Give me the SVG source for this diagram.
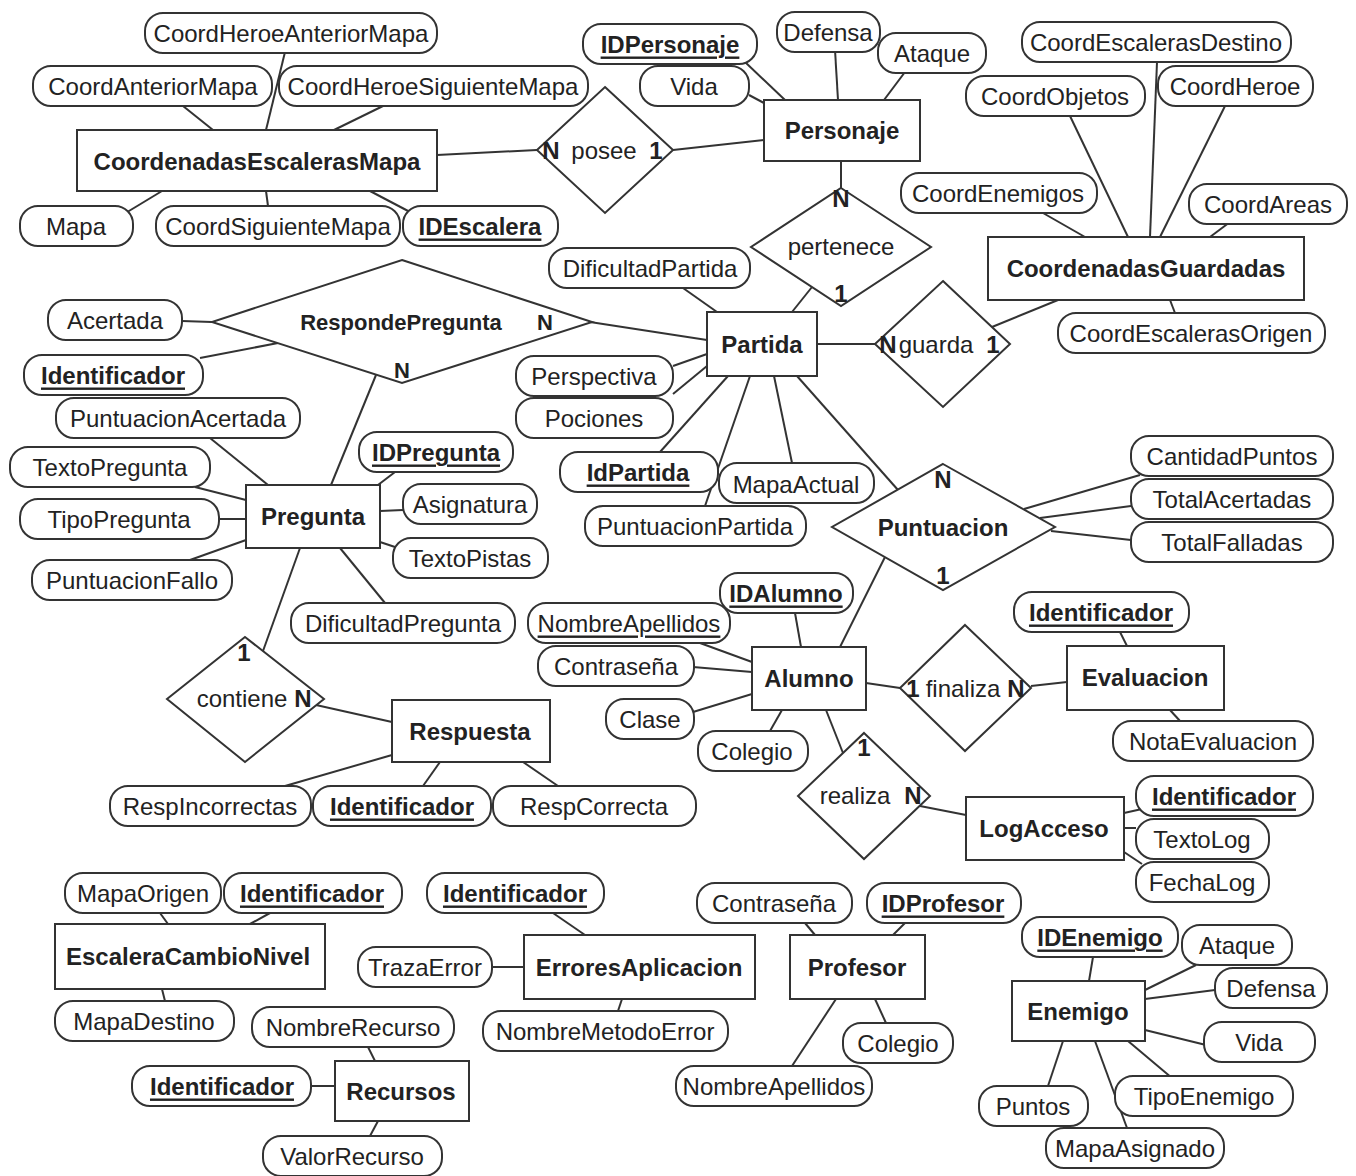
<svg xmlns="http://www.w3.org/2000/svg" width="1356" height="1176" viewBox="0 0 1356 1176">
<style>
.bg{fill:#fff}
.a{fill:#fff;stroke:#333;stroke-width:2}
.e{fill:#fff;stroke:#333;stroke-width:2}
.r{fill:#fff;stroke:#333;stroke-width:2}
#connectors line{stroke:#333;stroke-width:2}
text{font-family:"Liberation Sans",Arial,sans-serif;font-size:24px;fill:#222;text-anchor:middle;dominant-baseline:central}
.b{font-weight:bold}
.k{font-weight:bold;text-decoration:underline}
.u{text-decoration:underline}
.s{font-size:22px}
</style>
<rect class="bg" x="0" y="0" width="1356" height="1176"/>
<g id="connectors">
<line x1="285" y1="52" x2="266" y2="130"/>
<line x1="183" y1="106" x2="213" y2="130"/>
<line x1="383" y1="106" x2="334" y2="130"/>
<line x1="124" y1="214" x2="162" y2="191"/>
<line x1="268" y1="206" x2="266" y2="191"/>
<line x1="410" y1="212" x2="370" y2="191"/>
<line x1="437" y1="155" x2="537" y2="150"/>
<line x1="673" y1="150" x2="764" y2="140"/>
<line x1="745" y1="62" x2="785" y2="100"/>
<line x1="749" y1="95" x2="764" y2="103"/>
<line x1="835" y1="50" x2="838" y2="100"/>
<line x1="905" y1="72" x2="884" y2="100"/>
<line x1="841" y1="161" x2="841" y2="188"/>
<line x1="812" y1="287" x2="792" y2="312"/>
<line x1="1157" y1="62" x2="1150" y2="237"/>
<line x1="1070" y1="116" x2="1128" y2="237"/>
<line x1="1225" y1="106" x2="1160" y2="237"/>
<line x1="1043" y1="213" x2="1085" y2="237"/>
<line x1="1230" y1="222" x2="1210" y2="237"/>
<line x1="1175" y1="313" x2="1170" y2="300"/>
<line x1="992" y1="327" x2="1058" y2="300"/>
<line x1="817" y1="344" x2="875" y2="344"/>
<line x1="683" y1="288" x2="717" y2="312"/>
<line x1="590" y1="322" x2="707" y2="340"/>
<line x1="673" y1="366" x2="707" y2="354"/>
<line x1="673" y1="394" x2="707" y2="366"/>
<line x1="660" y1="452" x2="728" y2="376"/>
<line x1="705" y1="506" x2="750" y2="376"/>
<line x1="792" y1="463" x2="774" y2="376"/>
<line x1="898" y1="490" x2="797" y2="376"/>
<line x1="182" y1="321" x2="212" y2="322"/>
<line x1="200" y1="358" x2="278" y2="343"/>
<line x1="376" y1="375" x2="331" y2="485"/>
<line x1="210" y1="438" x2="268" y2="485"/>
<line x1="395" y1="472" x2="378" y2="485"/>
<line x1="195" y1="487" x2="246" y2="500"/>
<line x1="403" y1="510" x2="380" y2="511"/>
<line x1="219" y1="519" x2="246" y2="519"/>
<line x1="398" y1="548" x2="380" y2="542"/>
<line x1="190" y1="560" x2="246" y2="540"/>
<line x1="385" y1="603" x2="340" y2="548"/>
<line x1="300" y1="548" x2="263" y2="651"/>
<line x1="316" y1="705" x2="392" y2="722"/>
<line x1="285" y1="786" x2="392" y2="755"/>
<line x1="423" y1="786" x2="440" y2="762"/>
<line x1="558" y1="786" x2="523" y2="762"/>
<line x1="1024" y1="509" x2="1140" y2="475"/>
<line x1="1040" y1="518" x2="1131" y2="506"/>
<line x1="1051" y1="531" x2="1131" y2="540"/>
<line x1="885" y1="557" x2="840" y2="647"/>
<line x1="795" y1="613" x2="801" y2="647"/>
<line x1="700" y1="643" x2="752" y2="662"/>
<line x1="693" y1="667" x2="752" y2="672"/>
<line x1="693" y1="712" x2="752" y2="694"/>
<line x1="770" y1="731" x2="782" y2="710"/>
<line x1="826" y1="710" x2="843" y2="753"/>
<line x1="866" y1="683" x2="900" y2="688"/>
<line x1="1031" y1="686" x2="1067" y2="682"/>
<line x1="1120" y1="632" x2="1127" y2="646"/>
<line x1="1180" y1="721" x2="1170" y2="710"/>
<line x1="920" y1="806" x2="966" y2="815"/>
<line x1="1124" y1="813" x2="1142" y2="809"/>
<line x1="1124" y1="828" x2="1136" y2="828"/>
<line x1="1124" y1="852" x2="1142" y2="864"/>
<line x1="160" y1="913" x2="168" y2="924"/>
<line x1="270" y1="913" x2="250" y2="924"/>
<line x1="165" y1="1001" x2="162" y2="989"/>
<line x1="553" y1="913" x2="585" y2="935"/>
<line x1="492" y1="967" x2="524" y2="967"/>
<line x1="618" y1="1011" x2="622" y2="999"/>
<line x1="368" y1="1047" x2="375" y2="1061"/>
<line x1="311" y1="1086" x2="335" y2="1086"/>
<line x1="370" y1="1136" x2="378" y2="1121"/>
<line x1="805" y1="923" x2="815" y2="935"/>
<line x1="905" y1="923" x2="893" y2="935"/>
<line x1="836" y1="999" x2="792" y2="1066"/>
<line x1="886" y1="1023" x2="875" y2="999"/>
<line x1="1093" y1="957" x2="1089" y2="981"/>
<line x1="1196" y1="965" x2="1145" y2="990"/>
<line x1="1215" y1="990" x2="1145" y2="999"/>
<line x1="1206" y1="1045" x2="1145" y2="1030"/>
<line x1="1172" y1="1078" x2="1128" y2="1041"/>
<line x1="1048" y1="1086" x2="1063" y2="1041"/>
<line x1="1127" y1="1128" x2="1095" y2="1041"/>
</g>

<!-- Entities -->
<g id="CoordenadasEscalerasMapa"><rect class="e" x="77" y="130" width="360" height="61"/><text class="b" x="257" y="161">CoordenadasEscalerasMapa</text></g>
<g id="Personaje"><rect class="e" x="764" y="100" width="156" height="61"/><text class="b" x="842" y="130">Personaje</text></g>
<g id="CoordenadasGuardadas"><rect class="e" x="988" y="237" width="316" height="63"/><text class="b" x="1146" y="268">CoordenadasGuardadas</text></g>
<g id="Partida"><rect class="e" x="707" y="312" width="110" height="64"/><text class="b" x="762" y="344">Partida</text></g>
<g id="Pregunta"><rect class="e" x="246" y="485" width="134" height="63"/><text class="b" x="313" y="516">Pregunta</text></g>
<g id="Respuesta"><rect class="e" x="392" y="700" width="158" height="62"/><text class="b" x="470" y="731">Respuesta</text></g>
<g id="Alumno"><rect class="e" x="752" y="647" width="114" height="63"/><text class="b" x="809" y="678">Alumno</text></g>
<g id="Evaluacion"><rect class="e" x="1067" y="646" width="157" height="64"/><text class="b" x="1145" y="677">Evaluacion</text></g>
<g id="LogAcceso"><rect class="e" x="966" y="797" width="158" height="63"/><text class="b" x="1044" y="828">LogAcceso</text></g>
<g id="EscaleraCambioNivel"><rect class="e" x="55" y="924" width="270" height="65"/><text class="b" x="188" y="956">EscaleraCambioNivel</text></g>
<g id="ErroresAplicacion"><rect class="e" x="524" y="935" width="231" height="64"/><text class="b" x="639" y="967">ErroresAplicacion</text></g>
<g id="Recursos"><rect class="e" x="335" y="1061" width="134" height="60"/><text class="b" x="401" y="1091">Recursos</text></g>
<g id="Profesor"><rect class="e" x="790" y="935" width="135" height="64"/><text class="b" x="857" y="967">Profesor</text></g>
<g id="Enemigo"><rect class="e" x="1012" y="981" width="133" height="60"/><text class="b" x="1078" y="1011">Enemigo</text></g>

<!-- Relationships -->
<g id="posee"><polygon class="r" points="605,87 673,150 605,213 537,150"/><text class="b" x="551" y="150">N</text><text x="604" y="150">posee</text><text class="b" x="656" y="150">1</text></g>
<g id="pertenece"><polygon class="r" points="841,188 931,247 841,306 751,247"/><text class="b" x="841" y="198">N</text><text x="841" y="246">pertenece</text><text class="b" x="841" y="293">1</text></g>
<g id="RespondePregunta"><polygon class="r" points="402,260 592,322 402,383 212,322"/><text class="b s" x="401" y="322">RespondePregunta</text><text class="b s" x="545" y="322">N</text><text class="b s" x="402" y="370">N</text></g>
<g id="guarda"><polygon class="r" points="943,281 1010,344 943,407 875,344"/><text class="b" x="888" y="344">N</text><text x="936" y="344">guarda</text><text class="b" x="993" y="344">1</text></g>
<g id="Puntuacion"><polygon class="r" points="943,464 1055,527 943,590 832,527"/><text class="b" x="943" y="479">N</text><text class="b" x="943" y="527">Puntuacion</text><text class="b" x="943" y="575">1</text></g>
<g id="contiene"><polygon class="r" points="245,637 324,699 245,762 167,699"/><text class="b" x="244" y="652">1</text><text x="242" y="698">contiene</text><text class="b" x="303" y="698">N</text></g>
<g id="finaliza"><polygon class="r" points="965,625 1031,688 965,751 900,688"/><text class="b" x="913" y="688">1</text><text x="963" y="688">finaliza</text><text class="b" x="1016" y="688">N</text></g>
<g id="realiza"><polygon class="r" points="864,733 930,796 864,859 798,796"/><text class="b" x="864" y="747">1</text><text x="855" y="795">realiza</text><text class="b" x="913" y="795">N</text></g>

<!-- Attributes -->
<g id="attr-CoordHeroeAnteriorMapa"><rect class="a" x="145" y="13" width="292" height="40" rx="18"/><text x="291" y="33">CoordHeroeAnteriorMapa</text></g>
<g id="attr-CoordAnteriorMapa"><rect class="a" x="33" y="66" width="239" height="40" rx="18"/><text x="153" y="86">CoordAnteriorMapa</text></g>
<g id="attr-CoordHeroeSiguienteMapa"><rect class="a" x="279" y="66" width="309" height="40" rx="18"/><text x="433" y="86">CoordHeroeSiguienteMapa</text></g>
<g id="attr-Mapa"><rect class="a" x="20" y="206" width="113" height="40" rx="18"/><text x="76" y="226">Mapa</text></g>
<g id="attr-CoordSiguienteMapa"><rect class="a" x="156" y="206" width="244" height="40" rx="18"/><text x="278" y="226">CoordSiguienteMapa</text></g>
<g id="attr-IDEscalera"><rect class="a" x="403" y="206" width="155" height="40" rx="18"/><text class="k" x="480" y="226">IDEscalera</text></g>
<g id="attr-IDPersonaje"><rect class="a" x="583" y="24" width="174" height="40" rx="18"/><text class="k" x="670" y="44">IDPersonaje</text></g>
<g id="attr-Vida-P"><rect class="a" x="640" y="66" width="109" height="40" rx="18"/><text x="694" y="86">Vida</text></g>
<g id="attr-Defensa-P"><rect class="a" x="777" y="12" width="103" height="40" rx="18"/><text x="828" y="32">Defensa</text></g>
<g id="attr-Ataque-P"><rect class="a" x="878" y="33" width="108" height="40" rx="18"/><text x="932" y="53">Ataque</text></g>
<g id="attr-CoordEscalerasDestino"><rect class="a" x="1022" y="22" width="269" height="40" rx="18"/><text x="1156" y="42">CoordEscalerasDestino</text></g>
<g id="attr-CoordObjetos"><rect class="a" x="966" y="76" width="179" height="40" rx="18"/><text x="1055" y="96">CoordObjetos</text></g>
<g id="attr-CoordHeroe"><rect class="a" x="1158" y="66" width="155" height="40" rx="18"/><text x="1235" y="86">CoordHeroe</text></g>
<g id="attr-CoordEnemigos"><rect class="a" x="901" y="173" width="196" height="40" rx="18"/><text x="998" y="193">CoordEnemigos</text></g>
<g id="attr-CoordAreas"><rect class="a" x="1189" y="184" width="158" height="40" rx="18"/><text x="1268" y="204">CoordAreas</text></g>
<g id="attr-CoordEscalerasOrigen"><rect class="a" x="1058" y="313" width="267" height="40" rx="18"/><text x="1191" y="333">CoordEscalerasOrigen</text></g>
<g id="attr-DificultadPartida"><rect class="a" x="549" y="248" width="201" height="40" rx="18"/><text x="650" y="268">DificultadPartida</text></g>
<g id="attr-Perspectiva"><rect class="a" x="516" y="356" width="157" height="40" rx="18"/><text x="594" y="376">Perspectiva</text></g>
<g id="attr-Pociones"><rect class="a" x="516" y="398" width="157" height="40" rx="18"/><text x="594" y="418">Pociones</text></g>
<g id="attr-IdPartida"><rect class="a" x="560" y="452" width="158" height="40" rx="18"/><text class="k" x="638" y="472">IdPartida</text></g>
<g id="attr-MapaActual"><rect class="a" x="719" y="463" width="155" height="40" rx="18"/><text x="796" y="484">MapaActual</text></g>
<g id="attr-PuntuacionPartida"><rect class="a" x="585" y="506" width="221" height="40" rx="18"/><text x="695" y="526">PuntuacionPartida</text></g>
<g id="attr-Acertada"><rect class="a" x="48" y="300" width="134" height="40" rx="18"/><text x="115" y="320">Acertada</text></g>
<g id="attr-Identificador-RP"><rect class="a" x="24" y="355" width="179" height="40" rx="18"/><text class="k" x="113" y="375">Identificador</text></g>
<g id="attr-PuntuacionAcertada"><rect class="a" x="56" y="398" width="244" height="40" rx="18"/><text x="178" y="418">PuntuacionAcertada</text></g>
<g id="attr-IDPregunta"><rect class="a" x="359" y="432" width="154" height="40" rx="18"/><text class="k" x="436" y="452">IDPregunta</text></g>
<g id="attr-TextoPregunta"><rect class="a" x="10" y="447" width="200" height="40" rx="18"/><text x="110" y="467">TextoPregunta</text></g>
<g id="attr-Asignatura"><rect class="a" x="403" y="484" width="134" height="40" rx="18"/><text x="470" y="504">Asignatura</text></g>
<g id="attr-TipoPregunta"><rect class="a" x="20" y="499" width="199" height="40" rx="18"/><text x="119" y="519">TipoPregunta</text></g>
<g id="attr-TextoPistas"><rect class="a" x="393" y="538" width="155" height="40" rx="18"/><text x="470" y="558">TextoPistas</text></g>
<g id="attr-PuntuacionFallo"><rect class="a" x="32" y="560" width="200" height="40" rx="18"/><text x="132" y="580">PuntuacionFallo</text></g>
<g id="attr-DificultadPregunta"><rect class="a" x="291" y="603" width="224" height="40" rx="18"/><text x="403" y="623">DificultadPregunta</text></g>
<g id="attr-RespIncorrectas"><rect class="a" x="110" y="786" width="201" height="40" rx="18"/><text x="210" y="806">RespIncorrectas</text></g>
<g id="attr-Identificador-R"><rect class="a" x="313" y="786" width="178" height="40" rx="18"/><text class="k" x="402" y="806">Identificador</text></g>
<g id="attr-RespCorrecta"><rect class="a" x="493" y="786" width="203" height="40" rx="18"/><text x="594" y="806">RespCorrecta</text></g>
<g id="attr-CantidadPuntos"><rect class="a" x="1131" y="436" width="202" height="40" rx="18"/><text x="1232" y="456">CantidadPuntos</text></g>
<g id="attr-TotalAcertadas"><rect class="a" x="1131" y="479" width="202" height="40" rx="18"/><text x="1232" y="499">TotalAcertadas</text></g>
<g id="attr-TotalFalladas"><rect class="a" x="1131" y="522" width="202" height="40" rx="18"/><text x="1232" y="542">TotalFalladas</text></g>
<g id="attr-IDAlumno"><rect class="a" x="720" y="573" width="133" height="40" rx="18"/><text class="k" x="786" y="593">IDAlumno</text></g>
<g id="attr-NombreApellidos-A"><rect class="a" x="528" y="603" width="202" height="40" rx="18"/><text class="u" x="629" y="623">NombreApellidos</text></g>
<g id="attr-Contrasena-A"><rect class="a" x="538" y="646" width="156" height="40" rx="18"/><text x="616" y="666">Contraseña</text></g>
<g id="attr-Clase"><rect class="a" x="606" y="699" width="88" height="40" rx="18"/><text x="650" y="719">Clase</text></g>
<g id="attr-Colegio-A"><rect class="a" x="698" y="731" width="110" height="40" rx="18"/><text x="752" y="751">Colegio</text></g>
<g id="attr-Identificador-E"><rect class="a" x="1014" y="592" width="175" height="40" rx="18"/><text class="k" x="1101" y="612">Identificador</text></g>
<g id="attr-NotaEvaluacion"><rect class="a" x="1113" y="721" width="200" height="40" rx="18"/><text x="1213" y="741">NotaEvaluacion</text></g>
<g id="attr-Identificador-L"><rect class="a" x="1136" y="776" width="177" height="40" rx="18"/><text class="k" x="1224" y="796">Identificador</text></g>
<g id="attr-TextoLog"><rect class="a" x="1136" y="819" width="133" height="40" rx="18"/><text x="1202" y="839">TextoLog</text></g>
<g id="attr-FechaLog"><rect class="a" x="1136" y="862" width="133" height="40" rx="18"/><text x="1202" y="882">FechaLog</text></g>
<g id="attr-MapaOrigen"><rect class="a" x="65" y="873" width="156" height="40" rx="18"/><text x="143" y="893">MapaOrigen</text></g>
<g id="attr-Identificador-ECN"><rect class="a" x="224" y="873" width="178" height="40" rx="18"/><text class="k" x="312" y="893">Identificador</text></g>
<g id="attr-MapaDestino"><rect class="a" x="55" y="1001" width="179" height="40" rx="18"/><text x="144" y="1021">MapaDestino</text></g>
<g id="attr-Identificador-EA"><rect class="a" x="427" y="873" width="177" height="40" rx="18"/><text class="k" x="515" y="893">Identificador</text></g>
<g id="attr-TrazaError"><rect class="a" x="358" y="947" width="134" height="40" rx="18"/><text x="425" y="967">TrazaError</text></g>
<g id="attr-NombreMetodoError"><rect class="a" x="483" y="1011" width="245" height="40" rx="18"/><text x="605" y="1031">NombreMetodoError</text></g>
<g id="attr-NombreRecurso"><rect class="a" x="252" y="1007" width="202" height="40" rx="18"/><text x="353" y="1027">NombreRecurso</text></g>
<g id="attr-Identificador-Rec"><rect class="a" x="132" y="1066" width="179" height="40" rx="18"/><text class="k" x="222" y="1086">Identificador</text></g>
<g id="attr-ValorRecurso"><rect class="a" x="263" y="1136" width="179" height="40" rx="18"/><text x="352" y="1156">ValorRecurso</text></g>
<g id="attr-Contrasena-P"><rect class="a" x="697" y="883" width="155" height="40" rx="18"/><text x="774" y="903">Contraseña</text></g>
<g id="attr-IDProfesor"><rect class="a" x="867" y="883" width="154" height="40" rx="18"/><text class="k" x="943" y="903">IDProfesor</text></g>
<g id="attr-Colegio-P"><rect class="a" x="843" y="1023" width="110" height="40" rx="18"/><text x="898" y="1043">Colegio</text></g>
<g id="attr-NombreApellidos-P"><rect class="a" x="676" y="1066" width="196" height="40" rx="18"/><text x="774" y="1086">NombreApellidos</text></g>
<g id="attr-IDEnemigo"><rect class="a" x="1022" y="917" width="156" height="40" rx="18"/><text class="k" x="1100" y="937">IDEnemigo</text></g>
<g id="attr-Ataque-E"><rect class="a" x="1182" y="925" width="110" height="40" rx="18"/><text x="1237" y="945">Ataque</text></g>
<g id="attr-Defensa-E"><rect class="a" x="1215" y="968" width="112" height="40" rx="18"/><text x="1271" y="988">Defensa</text></g>
<g id="attr-Vida-E"><rect class="a" x="1204" y="1022" width="111" height="40" rx="18"/><text x="1259" y="1042">Vida</text></g>
<g id="attr-TipoEnemigo"><rect class="a" x="1115" y="1076" width="178" height="40" rx="18"/><text x="1204" y="1096">TipoEnemigo</text></g>
<g id="attr-Puntos"><rect class="a" x="979" y="1086" width="109" height="40" rx="18"/><text x="1033" y="1106">Puntos</text></g>
<g id="attr-MapaAsignado"><rect class="a" x="1046" y="1128" width="178" height="40" rx="18"/><text x="1135" y="1148">MapaAsignado</text></g>
</svg>
